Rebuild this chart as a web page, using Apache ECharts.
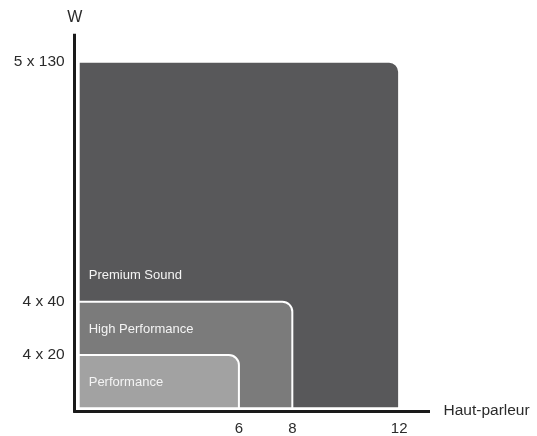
<!DOCTYPE html>
<html>
<head>
<meta charset="utf-8">
<script src="https://cdn.jsdelivr.net/npm/echarts@6/dist/echarts.min.js"></script>
<style>
html,body{margin:0;padding:0;background:#fff;}
#chart{width:537px;height:436px;}
</style>
</head>
<body>
<div id="chart"></div>
<script>
// Data
const tierNames = ['Premium Sound', 'High Performance', 'Performance'];
const tierSpeakers = [12, 8, 6];          // Haut-parleur
const tierWatts = [130, 40, 20];          // W per channel
const tierColors = ['#58585a', '#7b7b7b', '#a2a2a2'];
const xTickValues = [6, 8, 12];
const yTickValues = [20, 40, 130];
const yTickLabels = ['4 x 20', '4 x 40', '5 x 130'];

// each tier's label sits just above the next smaller tier
const data = tierNames.map((n, i) => ({
  name: n,
  value: [tierSpeakers[i], tierWatts[i], i + 1 < tierWatts.length ? tierWatts[i + 1] : 0],
  itemStyle: { color: tierColors[i] }
}));

const FONT = '"Liberation Sans", Arial, Helvetica, sans-serif';
const chart = echarts.init(document.getElementById('chart'));
chart.setOption({
  animation: false,
  backgroundColor: '#fff',
  grid: { left: 74.7, right: 108.5, top: 35.2, bottom: 24.3, containLabel: false },
  xAxis: {
    type: 'value', min: -0.15, max: 13.1,
    splitLine: { show: false },
    axisLine: { show: true, onZero: false, lineStyle: { color: '#1a1a1a', width: 3, cap: 'square' } },
    axisTick: { show: false },
    axisLabel: {
      customValues: xTickValues, color: '#2b2b2b', fontSize: 15, fontFamily: FONT, margin: 10
    },
    name: 'Haut-parleur', nameLocation: 'end', nameGap: 15,
    nameTextStyle: { color: '#2b2b2b', fontSize: 15.5, fontFamily: FONT, padding: [0, 0, 9, 0] }
  },
  yAxis: {
    type: 'value', min: -1, max: 140,
    splitLine: { show: false },
    axisLine: { show: true, onZero: false, lineStyle: { color: '#1a1a1a', width: 3, cap: 'square' } },
    axisTick: { show: false },
    axisLabel: {
      customValues: yTickValues, color: '#2b2b2b', fontSize: 15.5, fontFamily: FONT, margin: 10,
      formatter: v => { const k = yTickValues.indexOf(v); return k >= 0 ? yTickLabels[k] : ''; }
    },
    name: 'W', nameLocation: 'end', nameGap: 10,
    nameTextStyle: { color: '#2b2b2b', fontSize: 16, fontFamily: FONT, align: 'center' }
  },
  series: [{
    type: 'custom',
    data: data,
    renderItem: function (params, api) {
      const x = api.value(0), y = api.value(1), y0 = api.value(2);
      const p0 = api.coord([0, 0]);
      const p1 = api.coord([x, y]);
      const lab = api.coord([0, y0]);
      const color = api.visual('color');
      return {
        type: 'group',
        children: [
          {
            type: 'rect',
            shape: { x: p0[0], y: p1[1], width: p1[0] - p0[0], height: p0[1] - p1[1], r: [0, 10, 0, 0] },
            style: { fill: color, stroke: '#ffffff', lineWidth: 2 }
          },
          {
            type: 'text',
            style: {
              text: tierNames[params.dataIndex], x: p0[0] + 10, y: lab[1] - 26,
              fill: '#f4f4f4', font: '13px ' + FONT, verticalAlign: 'middle', align: 'left'
            }
          }
        ]
      };
    }
  }]
});
</script>
</body>
</html>
